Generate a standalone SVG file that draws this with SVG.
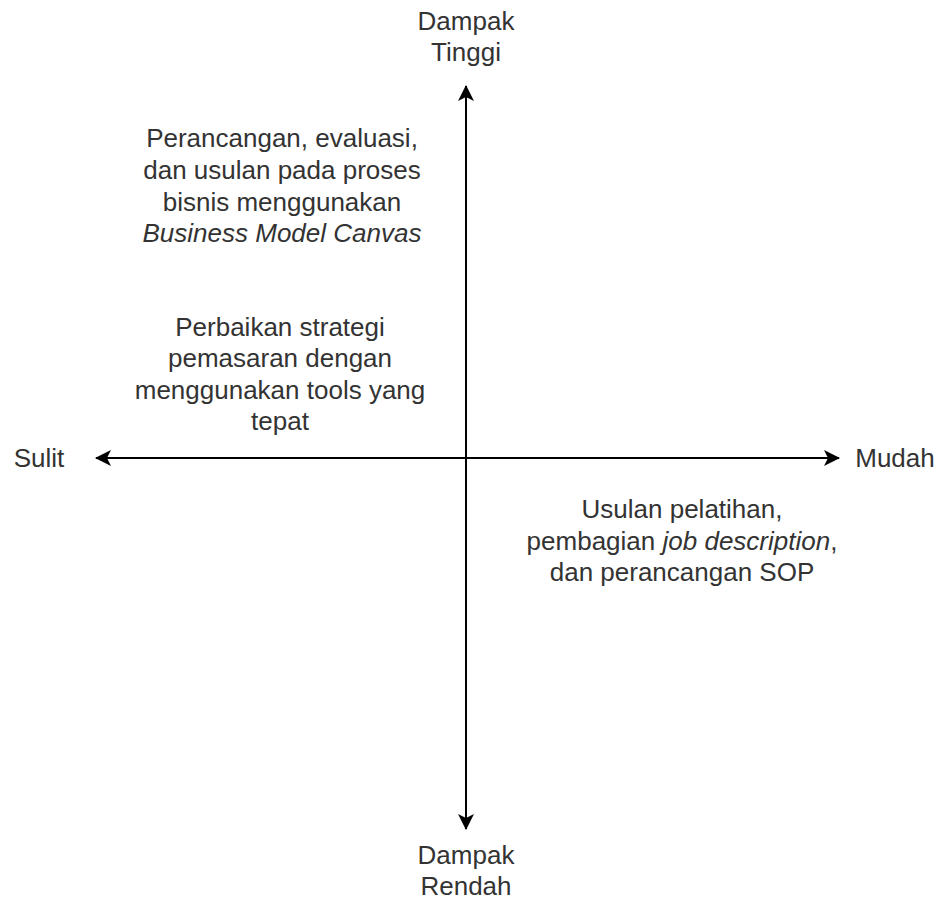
<svg xmlns="http://www.w3.org/2000/svg" width="939" height="902" viewBox="0 0 939 902">
<style>
text{font-family:"Liberation Sans",Arial,Helvetica,sans-serif;font-size:26px;fill:#333;text-anchor:middle}
.ax{stroke:#000;stroke-width:2;fill:none}
.it{font-style:italic}
</style>
<defs>
<marker id="ar" viewBox="0 0 16 16" refX="15" refY="8" markerWidth="16" markerHeight="16" markerUnits="userSpaceOnUse" orient="auto">
<path d="M0,0 L16,8 L0,16 L4,8 Z" fill="#000"/>
</marker>
</defs>
<rect width="939" height="902" fill="#fff"/>
<g id="connectors">
<line class="ax" x1="466" y1="458" x2="466" y2="86" marker-end="url(#ar)"/>
<line class="ax" x1="466" y1="458" x2="466" y2="829" marker-end="url(#ar)"/>
<line class="ax" x1="466" y1="458" x2="96" y2="458" marker-end="url(#ar)"/>
<line class="ax" x1="466" y1="458" x2="839" y2="458" marker-end="url(#ar)"/>
</g>
<g id="top-label">
<text x="466" y="30">Dampak</text>
<text x="466" y="61">Tinggi</text>
</g>
<g id="bottom-label">
<text x="466" y="864">Dampak</text>
<text x="466" y="895">Rendah</text>
</g>
<g id="left-label">
<text x="39" y="467">Sulit</text>
</g>
<g id="right-label">
<text x="895" y="467">Mudah</text>
</g>
<g id="node-bmc">
<text x="282" y="147">Perancangan, evaluasi,</text>
<text x="282" y="179">dan usulan pada proses</text>
<text x="282" y="211">bisnis menggunakan</text>
<text x="282" y="242" class="it">Business Model Canvas</text>
</g>
<g id="node-marketing">
<text x="280" y="336">Perbaikan strategi</text>
<text x="280" y="367">pemasaran dengan</text>
<text x="280" y="399">menggunakan tools yang</text>
<text x="280" y="430">tepat</text>
</g>
<g id="node-training">
<text x="682" y="518">Usulan pelatihan,</text>
<text x="682" y="550">pembagian <tspan class="it">job description</tspan>,</text>
<text x="682" y="581">dan perancangan SOP</text>
</g>
</svg>
